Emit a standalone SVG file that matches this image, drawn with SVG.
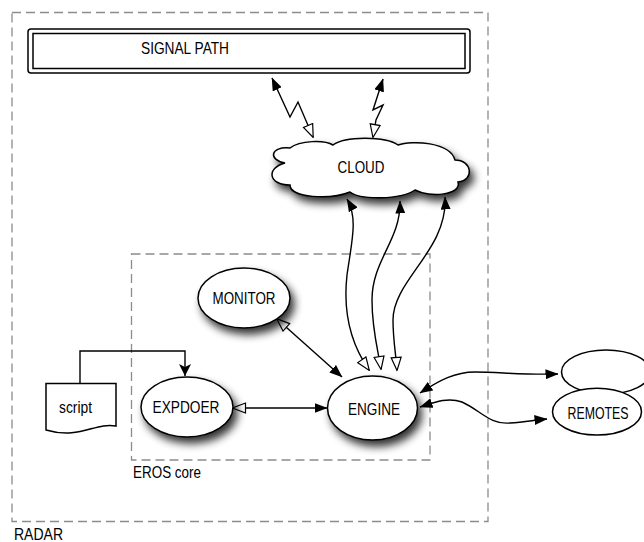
<svg xmlns="http://www.w3.org/2000/svg" width="644" height="542" viewBox="0 0 644 542">
<style>
  text { font-family: "Liberation Sans", Arial, sans-serif; font-size: 16.5px; fill: #000; }
  .dash { fill: none; stroke: #8c8c8c; stroke-width: 1.3; stroke-dasharray: 9 5; }
  .node { fill: #fff; stroke: #000; stroke-width: 1.5; }
  .conn { fill: none; stroke: #000; stroke-width: 1.4; }
</style>
<defs>
  <filter id="shadow" x="-30%" y="-30%" width="170%" height="180%">
    <feGaussianBlur in="SourceAlpha" stdDeviation="4"/>
    <feOffset dx="4" dy="6" result="b"/>
    <feComponentTransfer><feFuncA type="linear" slope="0.8"/></feComponentTransfer>
    <feMerge><feMergeNode/><feMergeNode in="SourceGraphic"/></feMerge>
  </filter>
  <marker id="filled" viewBox="0 0 13 10" refX="12.5" refY="5" markerWidth="13" markerHeight="10" orient="auto-start-reverse" markerUnits="userSpaceOnUse">
    <path d="M0,0 L13,5 L0,10 Z" fill="#000"/>
  </marker>
  <marker id="hollow" viewBox="-1 -1 15 12" refX="12.5" refY="5" markerWidth="15" markerHeight="12" orient="auto-start-reverse" markerUnits="userSpaceOnUse">
    <path d="M0,0 L13,5 L0,10 Z" fill="#fff" stroke="#000" stroke-width="1.2"/>
  </marker>
  <marker id="vee" viewBox="-1 -1 14 14" refX="12" refY="6" markerWidth="14" markerHeight="14" orient="auto" markerUnits="userSpaceOnUse">
    <path d="M0,0 L12,6 L0,12 L3,6 Z" fill="#000"/>
  </marker>
</defs>

<g id="radar">
  <rect class="dash" x="12" y="12.5" width="476" height="509"/>
  <text x="14" y="540" textLength="49" lengthAdjust="spacingAndGlyphs">RADAR</text>
</g>

<g id="eros-core">
  <rect class="dash" x="131.5" y="254" width="298.5" height="206"/>
  <text x="133" y="477.5" textLength="68" lengthAdjust="spacingAndGlyphs">EROS core</text>
</g>

<g id="signal-path">
  <rect x="28" y="29" width="442" height="44" rx="3" fill="#fff" stroke="#000" stroke-width="1.5"/>
  <rect x="33" y="33.5" width="432" height="35" fill="none" stroke="#000" stroke-width="1.5"/>
  <text x="141" y="54" textLength="88" lengthAdjust="spacingAndGlyphs">SIGNAL PATH</text>
</g>

<g id="connectors">
  <path class="conn" d="M272,78 L290,117 L298,102 L313,137" marker-start="url(#filled)" marker-end="url(#hollow)"/>
  <path class="conn" d="M383,79 L373,110 L383,105 L376,120 L373,137" marker-start="url(#filled)" marker-end="url(#hollow)"/>
  <path class="conn" d="M347,199 C358,218 352,240 347,275 C342,320 355,350 369,370" marker-start="url(#filled)" marker-end="url(#hollow)"/>
  <path class="conn" d="M400,201 C401,240 372,260 372,300 C372,330 378,350 381,369" marker-start="url(#filled)" marker-end="url(#hollow)"/>
  <path class="conn" d="M445,197 C448,250 393,280 393,320 C393,340 396,355 397,370" marker-start="url(#filled)" marker-end="url(#hollow)"/>
  <path class="conn" d="M277,319 L342,377" marker-start="url(#hollow)" marker-end="url(#filled)"/>
  <path class="conn" d="M233,408 L327,408" marker-start="url(#hollow)" marker-end="url(#filled)"/>
  <path class="conn" d="M80,383 L80,351 L185,351 L185,376" marker-end="url(#vee)"/>
  <path class="conn" d="M420,393 C440,380 455,372 475,372 C500,372 520,375 558,374" marker-start="url(#filled)" marker-end="url(#filled)"/>
  <path class="conn" d="M420,407 C435,402 448,397 462,402 C480,410 490,425 510,423 C525,422 535,420 547,419" marker-start="url(#filled)" marker-end="url(#filled)"/>
</g>

<g id="cloud">
  <path class="node" filter="url(#shadow)" d="M285,163 C268,160 270,146 290,148 C300,140 325,140 333,145 C345,136 385,136 398,145 C412,140 450,142 455,160 C472,160 475,180 458,182 C462,195 430,198 415,190 C400,200 360,200 350,192 C330,200 290,198 290,185 C268,185 266,168 285,163 Z"/>
  <text x="361" y="173" text-anchor="middle" textLength="47" lengthAdjust="spacingAndGlyphs">CLOUD</text>
</g>

<g id="monitor">
  <ellipse class="node" filter="url(#shadow)" cx="244" cy="298" rx="46" ry="30"/>
  <text x="244" y="304" text-anchor="middle" textLength="63" lengthAdjust="spacingAndGlyphs">MONITOR</text>
</g>

<g id="expdoer">
  <ellipse class="node" filter="url(#shadow)" cx="187" cy="407" rx="46" ry="30"/>
  <text x="186" y="412.5" text-anchor="middle" textLength="67" lengthAdjust="spacingAndGlyphs">EXPDOER</text>
</g>

<g id="engine">
  <ellipse class="node" filter="url(#shadow)" cx="372.5" cy="408" rx="45" ry="32"/>
  <text x="374" y="414.5" text-anchor="middle" textLength="52" lengthAdjust="spacingAndGlyphs">ENGINE</text>
</g>

<g id="script">
  <path class="node" d="M46,383.5 L116,383.5 L116,426 C95,422 80,440 46,430 Z"/>
  <text x="59" y="412.5" textLength="33" lengthAdjust="spacingAndGlyphs">script</text>
</g>

<g id="remote-2">
  <ellipse class="node" cx="606" cy="372" rx="44.5" ry="22"/>
</g>

<g id="remotes">
  <ellipse class="node" cx="597" cy="411.7" rx="44.5" ry="23.4"/>
  <text x="598" y="418.5" text-anchor="middle" textLength="61" lengthAdjust="spacingAndGlyphs">REMOTES</text>
</g>
</svg>
